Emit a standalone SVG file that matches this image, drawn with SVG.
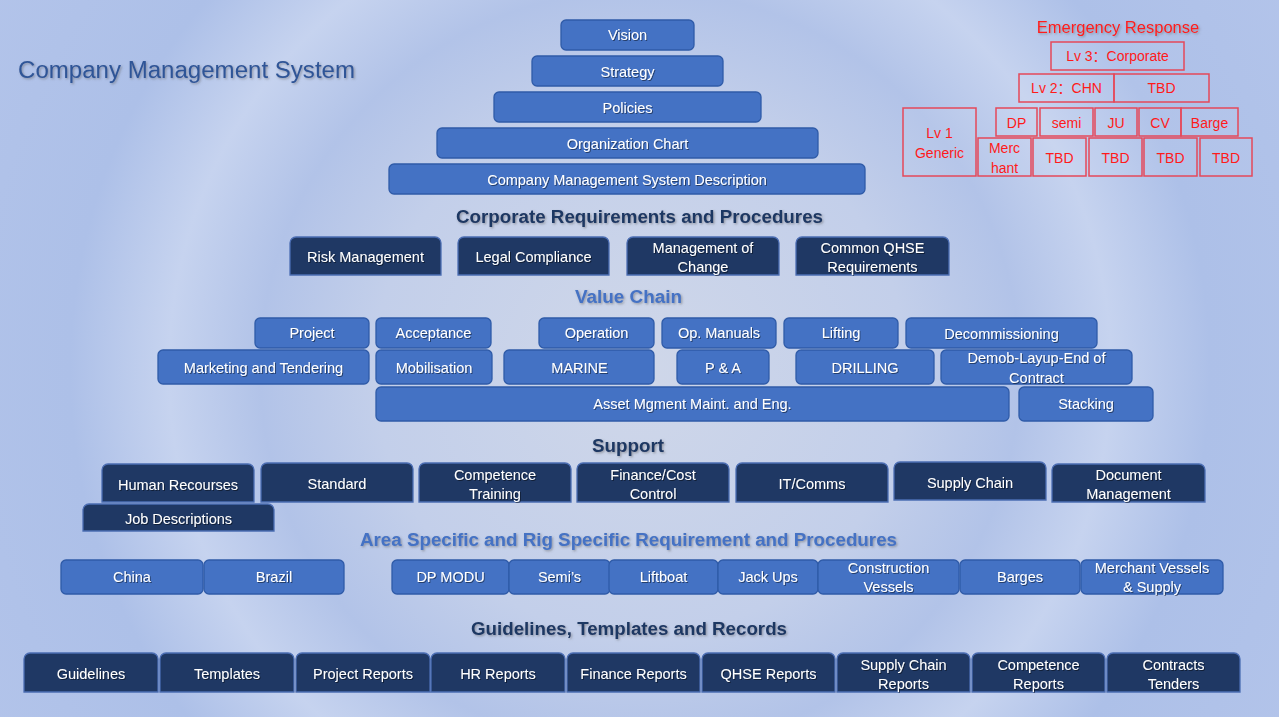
<svg xmlns="http://www.w3.org/2000/svg" width="1279" height="717" viewBox="0 0 1279 717">
<defs>
  <radialGradient id="bg" cx="640" cy="370" r="760" gradientUnits="userSpaceOnUse">
    <stop offset="0" stop-color="#cfd7e9"/>
    <stop offset="0.35" stop-color="#c3cfea"/>
    <stop offset="0.5" stop-color="#b2c3e8"/>
    <stop offset="0.62" stop-color="#c6d3ef"/>
    <stop offset="0.75" stop-color="#adc0e8"/>
    <stop offset="1" stop-color="#b3c4ea"/>
  </radialGradient>
  <filter id="ts" x="-10%" y="-30%" width="120%" height="160%">
    <feDropShadow dx="1" dy="1" stdDeviation="0.6" flood-color="#000" flood-opacity="0.45"/>
  </filter>
  <filter id="hs" x="-10%" y="-30%" width="120%" height="160%">
    <feDropShadow dx="1.2" dy="1.2" stdDeviation="0.8" flood-color="#555" flood-opacity="0.5"/>
  </filter>
</defs>
<style>
  .blue{fill:#4472c4;stroke:#2f5ba8;stroke-width:1.3}
  .navy{fill:#1f3864;stroke:#4b6db3;stroke-width:1.3}
  .er{fill:#ffffff;fill-opacity:0.06;stroke:#e5485a;stroke-width:1.5}
  .t{font-family:"Liberation Sans",Arial,sans-serif;font-size:14.5px;fill:#ffffff;text-anchor:middle;filter:url(#ts)}
  .et{font-family:"Liberation Sans","Noto Sans CJK SC",sans-serif;font-size:14px;fill:#ff1a1a;text-anchor:middle}
  .h{font-family:"Liberation Sans",Arial,sans-serif;font-weight:bold;font-size:18px;text-anchor:middle;filter:url(#hs)}
  .hn{fill:#1f3864}
  .hb{fill:#4472c4}
</style>
<rect x="0" y="0" width="1279" height="717" fill="url(#bg)"/>

<text x="18" y="78" font-family="Liberation Sans,Arial,sans-serif" font-size="23" fill="#2f5597" textLength="337" lengthAdjust="spacingAndGlyphs" filter="url(#hs)">Company Management System</text>

<!-- Pyramid -->
<g id="vision"><rect class="blue" x="561" y="20" width="133" height="30" rx="5"/><text class="t" x="627.5" y="40">Vision</text></g>
<g id="strategy"><rect class="blue" x="532" y="56" width="191" height="30" rx="5"/><text class="t" x="627.5" y="77">Strategy</text></g>
<g id="policies"><rect class="blue" x="494" y="92" width="267" height="30" rx="5"/><text class="t" x="627.5" y="113">Policies</text></g>
<g id="orgchart"><rect class="blue" x="437" y="128" width="381" height="30" rx="5"/><text class="t" x="627.5" y="149">Organization Chart</text></g>
<g id="cmsdesc"><rect class="blue" x="389" y="164" width="476" height="30" rx="5"/><text class="t" x="627" y="185">Company Management System Description</text></g>

<!-- Emergency Response -->
<g id="emergency">
  <text x="1118" y="33" font-family="Liberation Sans,sans-serif" font-size="16.5" fill="#ff1a1a" text-anchor="middle" filter="url(#hs)">Emergency Response</text>
  <g id="er-lv3"><rect class="er" x="1051" y="42" width="133" height="28"/><text class="et" x="1117.5" y="61">Lv 3：Corporate</text></g>
  <g id="er-lv2"><rect class="er" x="1019" y="74" width="95" height="28"/><text class="et" x="1066.5" y="93">Lv 2：CHN</text></g>
  <g id="er-lv2tbd"><rect class="er" x="1114" y="74" width="95" height="28"/><text class="et" x="1161.5" y="93">TBD</text></g>
  <g id="er-lv1"><rect class="er" x="903" y="108" width="73" height="68"/><text class="et" x="939.5" y="138">Lv 1</text><text class="et" x="939.5" y="158">Generic</text></g>
  <g id="er-dp"><rect class="er" x="996" y="108" width="41" height="28"/><text class="et" x="1016.5" y="128">DP</text></g>
  <g id="er-semi"><rect class="er" x="1040" y="108" width="53" height="28"/><text class="et" x="1066.5" y="128">semi</text></g>
  <g id="er-ju"><rect class="er" x="1095" y="108" width="42" height="28"/><text class="et" x="1116" y="128">JU</text></g>
  <g id="er-cv"><rect class="er" x="1139" y="108" width="42" height="28"/><text class="et" x="1160" y="128">CV</text></g>
  <g id="er-barge"><rect class="er" x="1181" y="108" width="57" height="28"/><text class="et" x="1209.5" y="128">Barge</text></g>
  <g id="er-merchant"><rect class="er" x="978" y="138" width="53" height="38"/><text class="et" x="1004.5" y="153">Merc</text><text class="et" x="1004.5" y="173">hant</text></g>
  <g id="er-tbd1"><rect class="er" x="1033" y="138" width="53" height="38"/><text class="et" x="1059.5" y="163">TBD</text></g>
  <g id="er-tbd2"><rect class="er" x="1089" y="138" width="53" height="38"/><text class="et" x="1115.5" y="163">TBD</text></g>
  <g id="er-tbd3"><rect class="er" x="1144" y="138" width="53" height="38"/><text class="et" x="1170.5" y="163">TBD</text></g>
  <g id="er-tbd4"><rect class="er" x="1200" y="138" width="52" height="38"/><text class="et" x="1226" y="163">TBD</text></g>
</g>

<!-- Corporate Requirements -->
<text class="h hn" x="639.5" y="223" textLength="367" lengthAdjust="spacingAndGlyphs">Corporate Requirements and Procedures</text>
<g id="risk"><path class="navy" d="M290 275V243a6 6 0 0 1 6-6H435a6 6 0 0 1 6 6V275Z"/><text class="t" x="365.5" y="262">Risk Management</text></g>
<g id="legal"><path class="navy" d="M458 275V243a6 6 0 0 1 6-6H603a6 6 0 0 1 6 6V275Z"/><text class="t" x="533.5" y="262">Legal Compliance</text></g>
<g id="moc"><path class="navy" d="M627 275V243a6 6 0 0 1 6-6H773a6 6 0 0 1 6 6V275Z"/><text class="t" x="703" y="253">Management of</text><text class="t" x="703" y="272">Change</text></g>
<g id="qhse"><path class="navy" d="M796 275V243a6 6 0 0 1 6-6H943a6 6 0 0 1 6 6V275Z"/><text class="t" x="872.5" y="253">Common QHSE</text><text class="t" x="872.5" y="272">Requirements</text></g>

<!-- Value Chain -->
<text class="h hb" x="628.5" y="303" textLength="107" lengthAdjust="spacingAndGlyphs">Value Chain</text>
<g id="project"><rect class="blue" x="255" y="318" width="114" height="30" rx="5"/><text class="t" x="312" y="338">Project</text></g>
<g id="acceptance"><rect class="blue" x="376" y="318" width="115" height="30" rx="5"/><text class="t" x="433.5" y="338">Acceptance</text></g>
<g id="operation"><rect class="blue" x="539" y="318" width="115" height="30" rx="5"/><text class="t" x="596.5" y="338">Operation</text></g>
<g id="opmanuals"><rect class="blue" x="662" y="318" width="114" height="30" rx="5"/><text class="t" x="719" y="338">Op. Manuals</text></g>
<g id="lifting"><rect class="blue" x="784" y="318" width="114" height="30" rx="5"/><text class="t" x="841" y="338">Lifting</text></g>
<g id="decom"><rect class="blue" x="906" y="318" width="191" height="30" rx="5"/><text class="t" x="1001.5" y="339">Decommissioning</text></g>
<g id="marketing"><rect class="blue" x="158" y="350" width="211" height="34" rx="5"/><text class="t" x="263.5" y="373">Marketing and Tendering</text></g>
<g id="mobilisation"><rect class="blue" x="376" y="350" width="116" height="34" rx="5"/><text class="t" x="434" y="373">Mobilisation</text></g>
<g id="marine"><rect class="blue" x="504" y="350" width="150" height="34" rx="5"/><text class="t" x="579.5" y="373">MARINE</text></g>
<g id="pa"><rect class="blue" x="677" y="350" width="92" height="34" rx="5"/><text class="t" x="723" y="373">P &amp; A</text></g>
<g id="drilling"><rect class="blue" x="796" y="350" width="138" height="34" rx="5"/><text class="t" x="865" y="373">DRILLING</text></g>
<g id="demob"><rect class="blue" x="941" y="350" width="191" height="34" rx="5"/><text class="t" x="1036.5" y="363">Demob-Layup-End of</text><text class="t" x="1036.5" y="383">Contract</text></g>
<g id="asset"><rect class="blue" x="376" y="387" width="633" height="34" rx="5"/><text class="t" x="692.5" y="409">Asset Mgment Maint. and Eng.</text></g>
<g id="stacking"><rect class="blue" x="1019" y="387" width="134" height="34" rx="5"/><text class="t" x="1086" y="409">Stacking</text></g>

<!-- Support -->
<text class="h hn" x="628" y="452" textLength="72" lengthAdjust="spacingAndGlyphs">Support</text>
<g id="hr"><path class="navy" d="M102 502V470a6 6 0 0 1 6-6H248a6 6 0 0 1 6 6V502Z"/><text class="t" x="178" y="490">Human Recourses</text></g>
<g id="standard"><path class="navy" d="M261 502V469a6 6 0 0 1 6-6H407a6 6 0 0 1 6 6V502Z"/><text class="t" x="337" y="489">Standard</text></g>
<g id="competence"><path class="navy" d="M419 502V469a6 6 0 0 1 6-6H565a6 6 0 0 1 6 6V502Z"/><text class="t" x="495" y="480">Competence</text><text class="t" x="495" y="499">Training</text></g>
<g id="finance"><path class="navy" d="M577 502V469a6 6 0 0 1 6-6H723a6 6 0 0 1 6 6V502Z"/><text class="t" x="653" y="480">Finance/Cost</text><text class="t" x="653" y="499">Control</text></g>
<g id="itcomms"><path class="navy" d="M736 502V469a6 6 0 0 1 6-6H882a6 6 0 0 1 6 6V502Z"/><text class="t" x="812" y="489">IT/Comms</text></g>
<g id="supplychain"><path class="navy" d="M894 500V468a6 6 0 0 1 6-6H1040a6 6 0 0 1 6 6V500Z"/><text class="t" x="970" y="488">Supply Chain</text></g>
<g id="docmgmt"><path class="navy" d="M1052 502V470a6 6 0 0 1 6-6H1199a6 6 0 0 1 6 6V502Z"/><text class="t" x="1128.5" y="480">Document</text><text class="t" x="1128.5" y="499">Management</text></g>
<g id="jobdesc"><path class="navy" d="M83 531V510a6 6 0 0 1 6-6H268a6 6 0 0 1 6 6V531Z"/><text class="t" x="178.5" y="524">Job Descriptions</text></g>

<!-- Area Specific -->
<text class="h hb" x="628.5" y="546" textLength="537" lengthAdjust="spacingAndGlyphs">Area Specific and Rig Specific Requirement and Procedures</text>
<g id="china"><rect class="blue" x="61" y="560" width="142" height="34" rx="5"/><text class="t" x="132" y="582">China</text></g>
<g id="brazil"><rect class="blue" x="204" y="560" width="140" height="34" rx="5"/><text class="t" x="274" y="582">Brazil</text></g>
<g id="dpmodu"><rect class="blue" x="392" y="560" width="117" height="34" rx="5"/><text class="t" x="450.5" y="582">DP MODU</text></g>
<g id="semis"><rect class="blue" x="509" y="560" width="101" height="34" rx="5"/><text class="t" x="559.5" y="582">Semi’s</text></g>
<g id="liftboat"><rect class="blue" x="609" y="560" width="109" height="34" rx="5"/><text class="t" x="663.5" y="582">Liftboat</text></g>
<g id="jackups"><rect class="blue" x="718" y="560" width="100" height="34" rx="5"/><text class="t" x="768" y="582">Jack Ups</text></g>
<g id="construction"><rect class="blue" x="818" y="560" width="141" height="34" rx="5"/><text class="t" x="888.5" y="573">Construction</text><text class="t" x="888.5" y="592">Vessels</text></g>
<g id="barges"><rect class="blue" x="960" y="560" width="120" height="34" rx="5"/><text class="t" x="1020" y="582">Barges</text></g>
<g id="merchant"><rect class="blue" x="1081" y="560" width="142" height="34" rx="5"/><text class="t" x="1152" y="573">Merchant Vessels</text><text class="t" x="1152" y="592">&amp; Supply</text></g>

<!-- Guidelines -->
<text class="h hn" x="629" y="635" textLength="316" lengthAdjust="spacingAndGlyphs">Guidelines, Templates and Records</text>
<g id="guidelines"><path class="navy" d="M24 692V659a6 6 0 0 1 6-6H152a6 6 0 0 1 6 6V692Z"/><text class="t" x="91" y="679">Guidelines</text></g>
<g id="templates"><path class="navy" d="M160 692V659a6 6 0 0 1 6-6H288a6 6 0 0 1 6 6V692Z"/><text class="t" x="227" y="679">Templates</text></g>
<g id="projreports"><path class="navy" d="M296 692V659a6 6 0 0 1 6-6H424a6 6 0 0 1 6 6V692Z"/><text class="t" x="363" y="679">Project Reports</text></g>
<g id="hrreports"><path class="navy" d="M431 692V659a6 6 0 0 1 6-6H559a6 6 0 0 1 6 6V692Z"/><text class="t" x="498" y="679">HR Reports</text></g>
<g id="finreports"><path class="navy" d="M567 692V659a6 6 0 0 1 6-6H694a6 6 0 0 1 6 6V692Z"/><text class="t" x="633.5" y="679">Finance Reports</text></g>
<g id="qhsereports"><path class="navy" d="M702 692V659a6 6 0 0 1 6-6H829a6 6 0 0 1 6 6V692Z"/><text class="t" x="768.5" y="679">QHSE Reports</text></g>
<g id="screports"><path class="navy" d="M837 692V659a6 6 0 0 1 6-6H964a6 6 0 0 1 6 6V692Z"/><text class="t" x="903.5" y="670">Supply Chain</text><text class="t" x="903.5" y="689">Reports</text></g>
<g id="compreports"><path class="navy" d="M972 692V659a6 6 0 0 1 6-6H1099a6 6 0 0 1 6 6V692Z"/><text class="t" x="1038.5" y="670">Competence</text><text class="t" x="1038.5" y="689">Reports</text></g>
<g id="contracts"><path class="navy" d="M1107 692V659a6 6 0 0 1 6-6H1234a6 6 0 0 1 6 6V692Z"/><text class="t" x="1173.5" y="670">Contracts</text><text class="t" x="1173.5" y="689">Tenders</text></g>

<g id="connectors"></g>
</svg>
